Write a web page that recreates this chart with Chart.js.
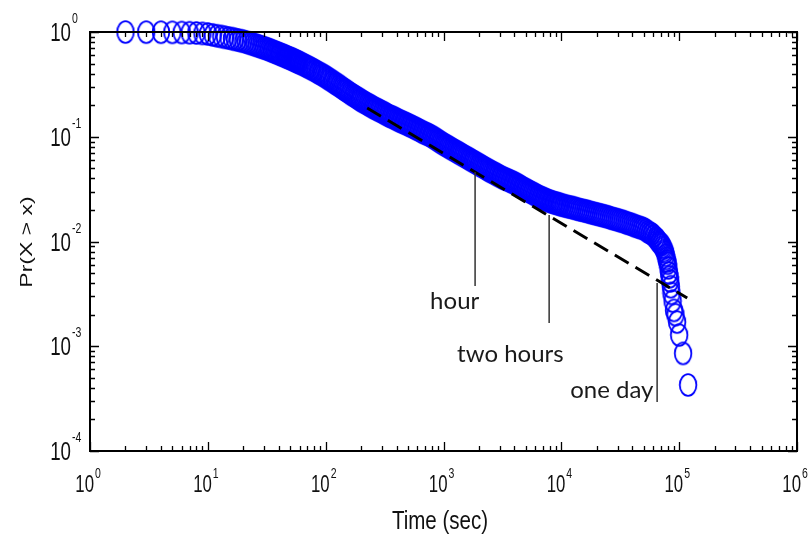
<!DOCTYPE html>
<html>
<head>
<meta charset="utf-8">
<script src="https://cdn.jsdelivr.net/npm/chart.js@4"></script>
<style>
html, body { margin: 0; padding: 0; background: #fff; }
</style>
</head>
<body>
<canvas id="chart" width="811" height="542"></canvas>
<script>
const timeSec = [
    2, 3, 4, 5, 6, 7, 8, 9, 10, 11, 12, 13, 14, 15, 16, 17, 18, 19,
    20, 21, 22, 23, 24, 25, 26, 27, 28, 29, 30, 31, 32, 33, 34, 35, 36, 37, 38, 39,
    40, 41, 42, 43, 44, 45, 46, 47, 48, 49, 50, 51, 52, 53, 54, 55, 56, 57, 58, 59, 60,
    62, 64, 66, 68, 70, 72, 75, 77, 80, 82, 85, 87, 90, 93, 96, 99,
    102, 105, 108, 112, 115, 119, 122, 126, 130, 134, 138, 142, 146, 150, 155,
    160, 165, 170, 175, 180, 185, 190, 195, 200, 206, 212, 218, 225, 231, 238, 245,
    252, 259, 267, 275, 283, 291, 300, 309, 318, 327, 337, 347, 357, 367, 378, 389,
    400, 412, 424, 436, 449, 462, 476, 490, 504, 519, 534, 550, 566, 583, 600, 618,
    636, 655, 674, 694, 714, 735, 756, 778, 800, 824, 848, 873, 898, 924, 951, 979,
    1008, 1034, 1060, 1090, 1120, 1154, 1190, 1224, 1260, 1295, 1330, 1369,
    1410, 1454, 1500, 1544, 1590, 1634, 1680, 1729, 1780, 1829, 1880, 1939,
    2000, 2054, 2110, 2174, 2240, 2304, 2370, 2439, 2510, 2584, 2660, 2739, 2820,
    2904, 2990, 3074, 3160, 3254, 3350, 3449, 3550, 3654, 3760, 3869, 3980, 4098,
    4220, 4343, 4470, 4598, 4730, 4868, 5010, 5158, 5310, 5463, 5620, 5788, 5960,
    6133, 6310, 6493, 6680, 6877, 7080, 7287, 7500, 7717, 7940, 8172, 8410, 8657,
    8910, 9171, 9440, 9716,
    10000, 10390, 10800, 11240, 11700, 12140, 12600, 13090, 13600, 14140, 14700, 15290,
    15900, 16490, 17100, 17790, 18500, 19240,
    20000, 20780, 21600, 22430, 23300, 24230, 25200, 26180, 27200, 28280, 29400, 30530,
    31700, 32970, 34300, 35620, 37000, 38470,
    40000, 41570, 43200, 44870, 46600, 48410, 50300, 52260, 54300, 56460, 58700, 61000,
    63400, 64700, 66000, 67200, 68500, 69700, 71000, 72200, 73500, 74700, 76000, 77000,
    78000, 79000, 80000, 81000, 82000, 83000, 84000, 85000, 86000, 88000, 90500, 93000,
    96000, 100000, 108000, 119000
];
const probExceed = [
    0.999, 0.997, 0.995, 0.992, 0.989, 0.985, 0.979, 0.970, 0.958, 0.938, 0.920, 0.906, 0.891, 0.877, 0.865, 0.851, 0.839, 0.828,
    0.817, 0.804, 0.791, 0.779, 0.767, 0.756, 0.745, 0.735, 0.724, 0.715, 0.706, 0.697, 0.689, 0.679, 0.670, 0.661, 0.653, 0.645, 0.637, 0.630,
    0.622, 0.615, 0.608, 0.602, 0.596, 0.589, 0.582, 0.576, 0.571, 0.565, 0.560, 0.555, 0.550, 0.544, 0.538, 0.533, 0.528, 0.523, 0.519, 0.514, 0.509,
    0.500, 0.492, 0.483, 0.475, 0.467, 0.459, 0.449, 0.442, 0.432, 0.425, 0.415, 0.408, 0.400, 0.392, 0.384, 0.376,
    0.368, 0.360, 0.352, 0.344, 0.336, 0.328, 0.321, 0.315, 0.307, 0.300, 0.293, 0.286, 0.280, 0.275, 0.268,
    0.261, 0.255, 0.250, 0.245, 0.240, 0.235, 0.231, 0.226, 0.222, 0.218, 0.214, 0.210, 0.206, 0.202, 0.199, 0.195,
    0.191, 0.188, 0.185, 0.182, 0.179, 0.176, 0.173, 0.170, 0.167, 0.164, 0.161, 0.158, 0.156, 0.154, 0.152, 0.149,
    0.147, 0.144, 0.142, 0.140, 0.138, 0.136, 0.134, 0.132, 0.130, 0.128, 0.126, 0.124, 0.122, 0.120, 0.118, 0.116,
    0.114, 0.112, 0.110, 0.1085, 0.107, 0.1055, 0.104, 0.102, 0.100, 0.0981, 0.0962, 0.0941, 0.0921, 0.0902, 0.0883, 0.0865,
    0.0847, 0.0833, 0.0820, 0.0805, 0.0791, 0.0775, 0.0760, 0.0746, 0.0733, 0.0720, 0.0707, 0.0694,
    0.0681, 0.0667, 0.0654, 0.0642, 0.0630, 0.0619, 0.0608, 0.0596, 0.0585, 0.0575, 0.0565, 0.0553,
    0.0542, 0.0533, 0.0524, 0.0514, 0.0504, 0.0494, 0.0485, 0.0476, 0.0468, 0.0460, 0.0452, 0.0444, 0.0437,
    0.0429, 0.0421, 0.0414, 0.0407, 0.0401, 0.0396, 0.0390, 0.0385, 0.0379, 0.0373, 0.0368, 0.0363, 0.0356,
    0.0350, 0.0343, 0.0337, 0.0330, 0.0324, 0.0318, 0.0313, 0.0307, 0.0302, 0.0297, 0.0292, 0.0287, 0.0282,
    0.0277, 0.0272, 0.0268, 0.0264, 0.0260, 0.0257, 0.0253, 0.0249, 0.0246, 0.0243, 0.0240, 0.0238, 0.0235,
    0.0233, 0.0231, 0.0229, 0.0226,
    0.0224, 0.0221, 0.0219, 0.0216, 0.0214, 0.0212, 0.0210, 0.0207, 0.0205, 0.0202, 0.0200, 0.0198,
    0.0196, 0.0194, 0.0192, 0.0189, 0.0187, 0.0185,
    0.0183, 0.0181, 0.0179, 0.0177, 0.0175, 0.0173, 0.0171, 0.0168, 0.0166, 0.0164, 0.0162, 0.0160,
    0.0158, 0.0156, 0.0154, 0.0151, 0.0149, 0.0147,
    0.0145, 0.0142, 0.0140, 0.0138, 0.0136, 0.0134, 0.0132, 0.0128, 0.0124, 0.0121, 0.0118, 0.0113,
    0.0108, 0.0105, 0.0102, 0.0099, 0.0097, 0.0095, 0.0093, 0.0089, 0.0086, 0.0082, 0.0079, 0.0074,
    0.0069, 0.0065, 0.0062, 0.0056, 0.0050, 0.0046, 0.0042, 0.0037, 0.0032, 0.0027, 0.0022, 0.0020,
    0.0017, 0.00128, 0.000855, 0.000427
];

// dashed power-law fit
const fitX = [225, 117000];
const fitY = [0.188, 0.00289];

// marked durations
const markNames = ["hour", "two hours", "one day"];
const markX = [1854, 7880, 65000];
const markTop = [0.0461, 0.0179, 0.00402];
const markBottom = [0.00376, 0.00167, 0.000294];
const markTextX = [770, 1305, 11880];
const markTextY = [0.00227, 0.000708, 0.00032];

// axis ticks
const xTickValues = [1, 10, 100, 1e3, 1e4, 1e5, 1e6];
const xTickExp = ["0", "1", "2", "3", "4", "5", "6"];
const yTickValues = [1, 0.1, 0.01, 0.001, 0.0001];
const yTickExp = ["0", "-1", "-2", "-3", "-4"];

// MARKER (squeezed circle)
const marker = document.createElement("canvas");
marker.width = 20;
marker.height = 26;
const mc = marker.getContext("2d");
mc.strokeStyle = "#0000ff";
mc.lineWidth = 1.8;
mc.beginPath();
mc.ellipse(10, 13, 8.3, 10.8, 0, 0, Math.PI * 2);
mc.stroke();

function squeezed(ctx, text, x, y, font, align, sx) {
    ctx.save();
    ctx.translate(x, y);
    ctx.scale(sx, 1);
    ctx.font = font;
    ctx.textAlign = align;
    ctx.textBaseline = "alphabetic";
    ctx.fillText(text, 0, 0);
    ctx.restore();
}

// AXES, TICKS, LABELS
const frame = {
    id: "frame",
    afterDatasetsDraw(chart) {
        const ctx = chart.ctx;
        const a = chart.chartArea;
        const xs = chart.scales.x;
        const ys = chart.scales.y;
        ctx.save();
        ctx.strokeStyle = "#000";
        ctx.fillStyle = "#111";

        // ticks
        ctx.lineWidth = 1.3;
        ctx.beginPath();
        for (let d = 0; d < 6; d++) {
            for (let k = 1; k <= 10; k++) {
                const v = Math.pow(10, d) * k;
                if (k === 1 && d > 0) continue;
                const px = Math.round(xs.getPixelForValue(v)) + 0.5;
                const len = (k === 1 || k === 10) ? 9 : 5;
                ctx.moveTo(px, a.bottom); ctx.lineTo(px, a.bottom - len);
                ctx.moveTo(px, a.top); ctx.lineTo(px, a.top + len);
            }
        }
        for (let d = -4; d < 0; d++) {
            for (let k = 1; k <= 10; k++) {
                const v = Math.pow(10, d) * k;
                if (k === 1 && d > -4) continue;
                const py = Math.round(ys.getPixelForValue(v)) + 0.5;
                const len = (k === 1 || k === 10) ? 9 : 5;
                ctx.moveTo(a.left, py); ctx.lineTo(a.left + len, py);
                ctx.moveTo(a.right, py); ctx.lineTo(a.right - len, py);
            }
        }
        ctx.stroke();

        // box
        ctx.lineWidth = 2;
        ctx.strokeRect(a.left, a.top, a.right - a.left, a.bottom - a.top);

        // tick labels
        xTickValues.forEach((v, i) => {
            const px = xs.getPixelForValue(v);
            squeezed(ctx, "10", px + 4, 492, "24px 'Liberation Sans'", "right", 0.7);
            squeezed(ctx, xTickExp[i], px + 5, 478, "15px 'Liberation Sans'", "left", 0.7);
        });
        yTickValues.forEach((v, i) => {
            const py = ys.getPixelForValue(v);
            squeezed(ctx, "10", 71, py + 9, "25px 'Liberation Sans'", "right", 0.75);
            squeezed(ctx, yTickExp[i], 72, py - 9, "15px 'Liberation Sans'", "left", 0.7);
        });

        // axis titles
        squeezed(ctx, "Time (sec)", 440, 529, "26px 'Liberation Sans'", "center", 0.79);
        ctx.save();
        ctx.translate(27, 242);
        ctx.scale(0.75, 1);
        ctx.rotate(-Math.PI / 2);
        ctx.font = "23px 'Liberation Sans'";
        ctx.textAlign = "center";
        ctx.textBaseline = "middle";
        ctx.fillText("Pr(X > x)", 0, 0);
        ctx.restore();

        // mark names
        ctx.fillStyle = "#1a1a1a";
        ctx.font = "24px Lato";
        ctx.textAlign = "left";
        ctx.textBaseline = "alphabetic";
        markNames.forEach((t, i) => {
            ctx.fillText(t, xs.getPixelForValue(markTextX[i]), ys.getPixelForValue(markTextY[i]));
        });
        ctx.restore();
    }
};

const markSets = markNames.map((n, i) => ({
    label: n,
    data: [{ x: markX[i], y: markTop[i] }, { x: markX[i], y: markBottom[i] }],
    showLine: true,
    borderColor: "#333",
    borderWidth: 1.5,
    pointRadius: 0,
    order: 1
}));

new Chart(document.getElementById("chart"), {
    type: "scatter",
    data: {
        datasets: [
            {
                label: "Pr(X > x)",
                data: timeSec.map((t, i) => ({ x: t, y: probExceed[i] })),
                pointStyle: marker,
                pointRadius: 10,
                clip: false,
                order: 3
            },
            {
                label: "fit",
                data: fitX.map((t, i) => ({ x: t, y: fitY[i] })),
                showLine: true,
                borderColor: "#000",
                borderWidth: 3,
                borderDash: [16, 8],
                pointRadius: 0,
                order: 2
            },
            ...markSets
        ]
    },
    options: {
        responsive: false,
        animation: false,
        events: [],
        layout: { padding: { left: 90, top: 32, right: 14, bottom: 91 } },
        scales: {
            x: { type: "logarithmic", min: 1, max: 1e6, display: false },
            y: { type: "logarithmic", min: 1e-4, max: 1, display: false }
        },
        plugins: {
            legend: { display: false },
            tooltip: { enabled: false }
        }
    },
    plugins: [frame]
});
</script>
</body>
</html>
